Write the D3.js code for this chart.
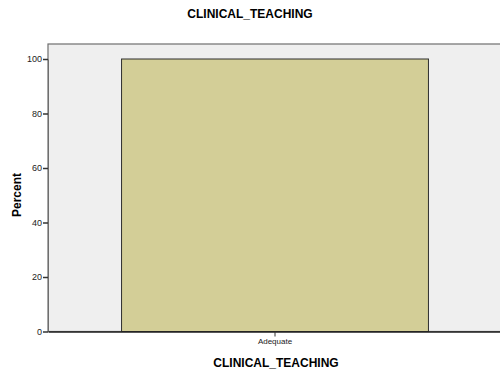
<!DOCTYPE html>
<html>
<head>
<meta charset="utf-8">
<script src="https://cdn.jsdelivr.net/npm/d3@7"></script>
<style>
  body { margin: 0; background: #fff; }
  svg { display: block; font-family: Arial, "Liberation Sans", sans-serif; }
</style>
</head>
<body>
<svg width="500" height="374"></svg>
<script>
// data
var categories = ["Adequate"];
var percents = [100];
var yTicks = [0, 20, 40, 60, 80, 100];

var svg = d3.select("svg");
var pLeft = 48, pTop = 44, pRight = 502, pBottom = 331.5;

// plot background frame
svg.append("rect")
    .attr("x", pLeft).attr("y", pTop)
    .attr("width", pRight - pLeft).attr("height", pBottom - pTop)
    .attr("fill", "#efefef")
    .attr("stroke", "#6e6e6e").attr("stroke-width", 1.2);

var scX = d3.scaleBand().domain(categories)
    .range([pLeft, pRight]).paddingInner(0.324).paddingOuter(0.162);
var scY = d3.scaleLinear().domain([0, 100]).range([pBottom, 59]);

// bars
svg.append("g").selectAll("rect")
    .data(categories).enter()
    .append("rect")
    .attr("x", d => scX(d))
    .attr("y", (d, i) => scY(percents[i]))
    .attr("width", scX.bandwidth())
    .attr("height", (d, i) => scY(0) - scY(percents[i]))
    .attr("fill", "#d3ce97")
    .attr("stroke", "#2e2e2e").attr("stroke-width", 1);

// y axis
var gy = svg.append("g")
    .attr("transform", "translate(" + pLeft + ",0)")
    .call(d3.axisLeft(scY).tickValues(yTicks).tickSize(5).tickSizeOuter(0));
gy.select(".domain").attr("stroke", "#6e6e6e");
gy.selectAll(".tick line").attr("stroke", "#333").attr("stroke-width", 1.5);
gy.selectAll(".tick text").attr("font-size", 9).attr("fill", "#222")
    .attr("x", -6);

// x axis
var gx = svg.append("g")
    .attr("transform", "translate(0," + pBottom + ")")
    .call(d3.axisBottom(scX).tickSize(5).tickSizeOuter(0));
gx.select(".domain").attr("stroke", "#222").attr("stroke-width", 1.3);
gx.selectAll(".tick line").attr("stroke", "#333");
gx.selectAll(".tick text").attr("font-size", 8).attr("fill", "#222").attr("y", 7);

// titles
svg.append("text").attr("x", 250).attr("y", 18)
    .attr("text-anchor", "middle").attr("font-weight", "bold")
    .attr("font-size", 12).text("CLINICAL_TEACHING");
svg.append("text").attr("x", 276).attr("y", 367)
    .attr("text-anchor", "middle").attr("font-weight", "bold")
    .attr("font-size", 12).text("CLINICAL_TEACHING");
svg.append("text")
    .attr("transform", "translate(21,195) rotate(-90)")
    .attr("text-anchor", "middle").attr("font-weight", "bold")
    .attr("font-size", 12).text("Percent");
</script>
</body>
</html>
